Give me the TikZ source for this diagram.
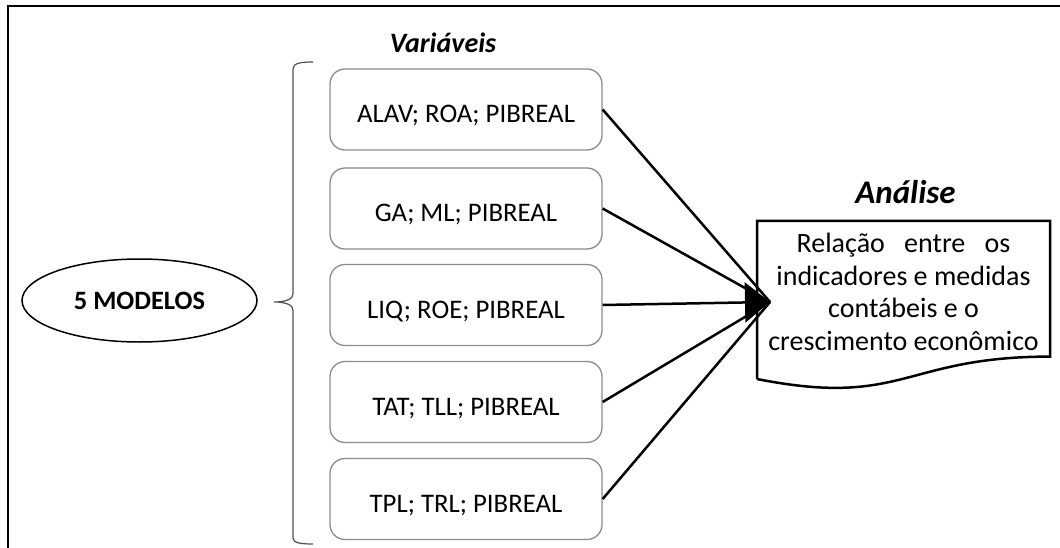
\documentclass[tikz,border=0pt]{standalone}
\usepackage{fontspec}
\setmainfont{Carlito}
\usetikzlibrary{arrows.meta,shapes.geometric}
\definecolor{boxgray}{HTML}{8C8C8C}
\definecolor{bracegray}{HTML}{505050}
\begin{document}
\begin{tikzpicture}[x=1pt,y=-1pt,
  varbox/.style={draw=boxgray, line width=1.3pt, rounded corners=15pt,
    minimum width=272pt, minimum height=81pt, inner sep=0pt,
    text height=26pt, text depth=0pt, font=\fontsize{26.8}{30}\selectfont},
  conn/.style={line width=2.5pt, black},
  heading/.style={font=\fontsize{#1}{#1}\selectfont\bfseries\itshape, inner sep=0pt, anchor=base},
]
\useasboundingbox (0,0) rectangle (1060,548);
% frame
\draw[line width=2pt] (8,548) -- (8,6) -- (1060,6);

% ellipse
\node[ellipse, draw, line width=1.5pt, minimum width=235pt, minimum height=83pt, inner sep=0pt,
  font=\fontsize{26.5}{28}\selectfont\bfseries] (modelos) at (139.5,300.5) {5 MODELOS};

% brace
\coordinate (bracetip) at (274,302);
\draw[bracegray, line width=1.2pt] (313,62) .. controls (301,62) and (293,63) .. (293,69)
  -- (293,294) .. controls (293,299) and (286,302) .. (bracetip)
  .. controls (286,302) and (293,305) .. (293,310)
  -- (293,538) .. controls (293,543) and (301,544) .. (313,544);

% heading
\node[heading=28] (var) at (443,53) {Variáveis};

% boxes
\node[varbox] (b1) at (466,109.5) {ALAV; ROA; PIBREAL};
\node[varbox] (b2) at (466,208.5) {GA; ML; PIBREAL};
\node[varbox] (b3) at (466,305) {LIQ; ROE; PIBREAL};
\node[varbox] (b4) at (466,402) {TAT; TLL; PIBREAL};
\node[varbox] (b5) at (466,499) {TPL; TRL; PIBREAL};

% document shape
\draw[line width=2.5pt, line join=miter] (757,379) -- (757,221) -- (1050,221) -- (1050,356.6)
  .. controls (903.5,356.6) and (903.5,408) .. (757,379);
\node[heading=33] (analise) at (905.5,204) {Análise};
\node[align=center, inner sep=0pt, font=\fontsize{28}{32.5}\selectfont] (doc) at (903.5,292)
  {Relação\hspace{13pt} entre\hspace{13pt} os\\indicadores e medidas\\contábeis e o\\crescimento econômico};

% connectors
\coordinate (tip) at (770,302);
\draw[conn] (b1.east) -- (tip);
\draw[conn] (b2.east) -- (tip);
\draw[conn] (b4.east) -- (tip);
\draw[conn] (b5.east) -- (tip);
\draw[conn, -{Triangle[length=25pt,width=40pt]}] (b3.east) -- (tip);
\end{tikzpicture}
\end{document}
